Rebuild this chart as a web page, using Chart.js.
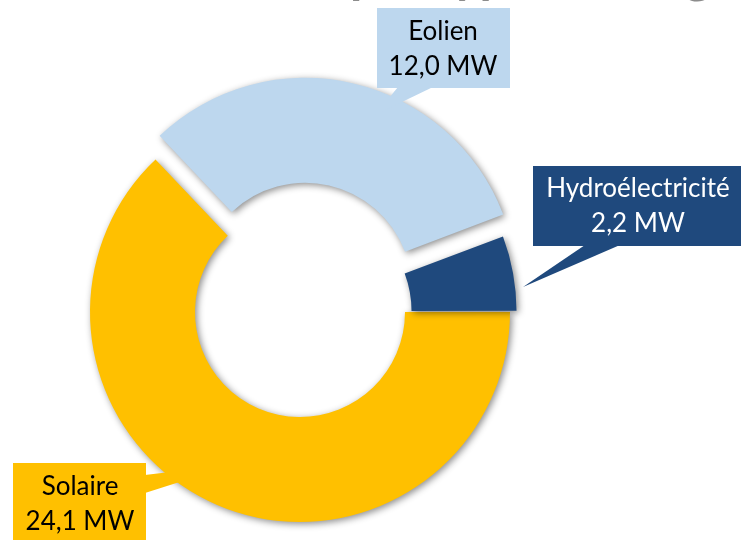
<!DOCTYPE html>
<html lang="fr">
<head>
<meta charset="utf-8">
<title>Puissance installée par type d'énergie</title>
<script src="https://cdn.jsdelivr.net/npm/chart.js@4.4.1/dist/chart.umd.min.js"></script>
<style>
  html, body { margin: 0; padding: 0; background: #fff; }
  #wrap { position: relative; width: 741px; height: 540px; }
</style>
</head>
<body>
<div id="wrap"><canvas id="chart" width="741" height="540"></canvas></div>
<script>
// Données
const labels = ['Solaire', 'Eolien', 'Hydroélectricité'];
const values = [24.1, 12.0, 2.2];
const valueLabels = ['24,1 MW', '12,0 MW', '2,2 MW'];
const colors = ['#FFC000', '#BDD7EE', '#1F497D'];
const textColors = ['#000000', '#000000', '#FFFFFF'];
const offsets = [0, 92, 16];
const title = 'Puissance installée par type d\'énergie';

// Bulles des étiquettes : boîte + pointe
const callouts = [
    { box: [13, 463, 133, 90], tail: [[145, 475], [145, 493], [236, 464]], tx: 80, ty: [495, 530] },
    { box: [377, 8, 133, 80], tail: [[398, 87], [433, 87], [375, 115]], tx: 443, ty: [40, 75] },
    { box: [533, 166, 210, 80], tail: [[585, 245], [620, 245], [523, 287]], tx: 638, ty: [197, 232] }
];

// Ombre portée sous les segments
const shadowPlugin = {
    id: 'ombre',
    beforeDatasetsDraw(chart) {
        const ctx = chart.ctx;
        ctx.save();
        ctx.shadowColor = 'rgba(0, 0, 0, 0.45)';
        ctx.shadowBlur = 7;
        ctx.shadowOffsetX = 2;
        ctx.shadowOffsetY = 2;
    },
    afterDatasetsDraw(chart) {
        chart.ctx.restore();
    }
};

const calloutPlugin = {
    id: 'bulles',
    afterDraw(chart) {
        const ctx = chart.ctx;
        ctx.save();

        // titre coupé en haut de l'image
        ctx.font = 'bold 50px Lato';
        ctx.fillStyle = '#8C8C8C';
        ctx.textBaseline = 'alphabetic';
        ctx.textAlign = 'left';
        const prefix = ctx.measureText('Puissance installée ').width;
        ctx.fillText(title, 350 - prefix, -7);

        ctx.font = '26px Lato';
        ctx.textAlign = 'center';
        callouts.forEach((c, i) => {
            ctx.fillStyle = colors[i];
            ctx.fillRect(c.box[0], c.box[1], c.box[2], c.box[3]);
            ctx.beginPath();
            ctx.moveTo(c.tail[0][0], c.tail[0][1]);
            ctx.lineTo(c.tail[1][0], c.tail[1][1]);
            ctx.lineTo(c.tail[2][0], c.tail[2][1]);
            ctx.closePath();
            ctx.fill();
            ctx.fillStyle = textColors[i];
            ctx.fillText(labels[i], c.tx, c.ty[0]);
            ctx.fillText(valueLabels[i], c.tx, c.ty[1]);
        });
        ctx.restore();
    }
};

const ctx = document.getElementById('chart').getContext('2d');
const chart = new Chart(ctx, {
    type: 'doughnut',
    data: {
        labels: labels,
        datasets: [{
            data: values,
            backgroundColor: colors,
            borderWidth: 0,
            offset: offsets,
            hoverOffset: 0
        }]
    },
    options: {
        responsive: false,
        animation: false,
        events: [],
        rotation: 90,
        radius: 210,
        cutout: '50%',
        layout: { padding: { left: 0, right: 141, top: 84, bottom: 0 } },
        plugins: {
            legend: { display: false },
            tooltip: { enabled: false }
        }
    },
    plugins: [shadowPlugin, calloutPlugin]
});
</script>
</body>
</html>
